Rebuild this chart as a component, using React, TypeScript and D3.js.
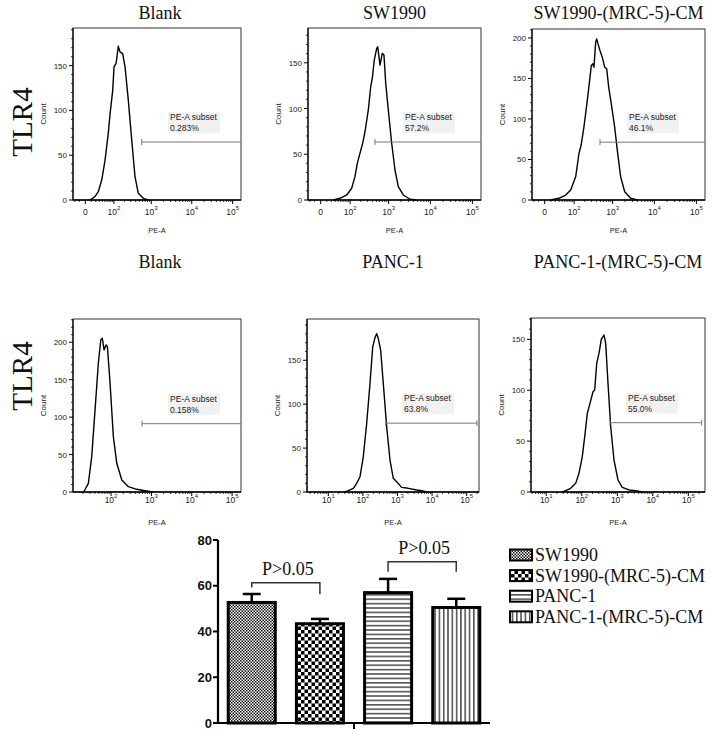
import React from "react";
import * as d3 from "d3";

const SERIF = "'Liberation Serif', 'Times New Roman', serif";
const SANS = "'Liberation Sans', Arial, sans-serif";

// ---------- Flow cytometry histograms: [PE-A intensity, count] ----------
const histBlankSW: [number, number][] = [
  [7.6, 0], [18, 3.7], [27, 9.3], [38, 22.3], [51, 44.6], [66, 74.4], [75, 94.8], [92, 122.6],
  [101, 148.6], [116, 152.4], [127, 163.5], [135, 171.7], [151, 165.3], [180, 163.5], [209, 148.6],
  [256, 111.5], [316, 66.9], [385, 26], [469, 7.5], [630, 1.9], [843, 0],
];
const histSW1990: [number, number][] = [
  [24.8, 0], [47, 1.9], [79, 5.5], [111, 12.8], [138, 25.5], [160, 40.1], [189, 51], [223, 62],
  [257, 74.6], [313, 98.4], [360, 123.8], [395, 133], [443, 153], [510, 165.8], [540, 167.5],
  [615, 147.5], [700, 160.3], [770, 158.5], [850, 127.5], [983, 98.4], [1187, 62], [1428, 32.8],
  [1715, 14.5], [2262, 5.5], [3273, 0.8], [4725, 0],
];
const histSW1990CM: [number, number][] = [
  [9.7, 0], [29.6, 2.1], [53.8, 6.1], [78.6, 12.3], [111, 28.6], [138, 57.4], [160, 68.8], [189, 90.1],
  [232, 122.9], [273, 151.6], [295, 166], [320, 168], [345, 163.9], [381, 194.6], [404, 198.8],
  [436, 192.6], [489, 184.4], [557, 176.2], [640, 163.9], [717, 161.9], [802, 139.3], [927, 118.9],
  [1122, 90.1], [1298, 61.5], [1567, 28.6], [1960, 10.2], [2730, 2.1], [3925, 0],
];
const histBlankPANC: [number, number][] = [
  [21, 0], [27.4, 11.6], [33.2, 47.2], [40.1, 109.6], [48.4, 171.9], [55.6, 203], [60.9, 205.3],
  [67.1, 189.7], [75.2, 196.4], [81.1, 194.1], [94.5, 145.2], [114, 73.9], [138.6, 38.3],
  [184.5, 16], [268.8, 7.1], [433.6, 3.6], [696.6, 1.7], [1100, 0],
];
const histPANC1: [number, number][] = [
  [30, 0], [37.8, 1.5], [52.8, 4.2], [66.1, 9.9], [82.4, 17.4], [102.6, 40.1], [128.6, 78],
  [160.2, 123.5], [191.8, 165], [223.4, 175.8], [250.2, 180.3], [278.6, 174.7], [326.6, 161.4],
  [388.3, 123.5], [486.5, 74.2], [606.7, 36.4], [755.6, 15.6], [946.5, 11.7], [1320, 5.3],
  [2050, 4.2], [3589, 2.3], [5003, 1.5], [7000, 0],
];
const histPANC1CM: [number, number][] = [
  [28, 0], [35.2, 1.3], [48.6, 3.6], [67.3, 8.5], [83.4, 18.4], [103.3, 34.7], [120.7, 54.3],
  [142.9, 77.3], [170.2, 87.1], [206.6, 98.5], [230.7, 100.2], [263, 126.4], [305, 136.2],
  [354, 150], [421.7, 154.2], [471, 146.1], [547, 106.8], [651.6, 64.1], [807, 31.4],
  [1047, 11.8], [1384, 4.6], [2137, 2], [3298, 1.3], [5000, 0],
];
const histograms = [histBlankSW, histSW1990, histSW1990CM, histBlankPANC, histPANC1, histPANC1CM];

const panelTitles = ["Blank", "SW1990", "SW1990-(MRC-5)-CM", "Blank", "PANC-1", "PANC-1-(MRC-5)-CM"];
const rowLabels = ["TLR4", "TLR4"];
const gateName = "PE-A subset";
const gatePercents = ["0.283%", "57.2%", "46.1%", "0.158%", "63.8%", "55.0%"];
const gateCounts = [64.7, 63.4, 71.3, 91.2, 78.4, 68.1];
const gateStarts = [574, 462, 489, 587, 456, 622];
const gateEnds = [160000, 160000, 160000, 166000, 198000, 238000];
const gateEndCaps = [false, false, false, false, true, true];
const countMaxima = [192, 188, 211, 231, 197, 171];
const countTickValues = [
  [0, 50, 100, 150], [0, 50, 100, 150], [0, 50, 100, 150, 200],
  [0, 50, 100, 150, 200], [0, 50, 100, 150], [0, 50, 100, 150],
];
const xAxisKinds = ["biex", "biex", "biex", "log", "log", "log"];
const xDomains: [number, number][] = [
  [-25, 160000], [-25, 160000], [-25, 160000], [11.4, 166000], [2.42, 227000], [3.71, 295000],
];
const xMajorTicks = [
  [0, 1e2, 1e3, 1e4, 1e5], [0, 1e2, 1e3, 1e4, 1e5], [0, 1e2, 1e3, 1e4, 1e5],
  [1e2, 1e3, 1e4, 1e5], [1e1, 1e2, 1e3, 1e4, 1e5], [1e1, 1e2, 1e3, 1e4, 1e5],
];
const xAxisTitle = "PE-A";
const yAxisTitle = "Count";

// ---------- Bar chart ----------
const barGroups = ["SW1990", "SW1990-(MRC-5)-CM", "PANC-1", "PANC-1-(MRC-5)-CM"];
const barMeans = [52.7, 43.4, 57.0, 50.5];
const barErrors = [3.7, 2.1, 6.0, 3.8];
const barTicks = [0, 20, 40, 60, 80];
const bracketPairs = [[0, 1], [2, 3]];
const bracketLevels = [61.3, 70.5];
const bracketLeftEnds = [59.2, 66.1];
const bracketRightEnds = [56.3, 66.1];
const bracketLabels = ["P>0.05", "P>0.05"];
const patternIds = ["patFineCheck", "patCheck", "patHLines", "patVLines"];

const frames = [
  { x0: 73, x1: 241, y0: 28, y1: 200 },
  { x0: 308, x1: 481, y0: 28, y1: 200 },
  { x0: 532, x1: 705, y0: 29, y1: 200 },
  { x0: 73, x1: 241, y0: 319, y1: 492 },
  { x0: 307, x1: 479, y0: 319, y1: 492 },
  { x0: 531, x1: 705, y0: 318, y1: 492 },
];
const titleShift = [3, 0, 0, 3, 0, 0];

function minorTicksFor(kind: string, dom: [number, number]): number[] {
  const out: number[] = [];
  if (kind === "biex") {
    for (let v = -20; v <= 90; v += 10) if (v !== 0) out.push(v);
    for (let k = 2; k <= 5; k++) for (let m = 2; m <= 9; m++) out.push(m * Math.pow(10, k));
  } else {
    for (let k = 0; k <= 5; k++) for (let m = 2; m <= 9; m++) out.push(m * Math.pow(10, k));
  }
  return out.filter((v) => v >= dom[0] && v <= dom[1]);
}

function HistPanel({ i }: { i: number }) {
  const f = frames[i];
  const kind = xAxisKinds[i];
  const x: any =
    kind === "biex"
      ? d3.scaleSymlog().constant(25).domain(xDomains[i]).range([f.x0, f.x1])
      : d3.scaleLog().domain(xDomains[i]).range([f.x0, f.x1]);
  const y = d3.scaleLinear().domain([0, countMaxima[i]]).range([f.y1, f.y0]);
  const line = d3
    .line<[number, number]>()
    .x((d) => x(d[0]))
    .y((d) => y(d[1]));
  const minorY: number[] = [];
  for (let v = 0; v <= countMaxima[i]; v += 10) if (v % 50 !== 0) minorY.push(v);
  const minorX = minorTicksFor(kind, xDomains[i]);
  const isTop = i < 3;
  const labelBase = isTop ? f.y1 + 14.5 : f.y1 + 10.5;
  const gy = y(gateCounts[i]);
  const gx0 = x(gateStarts[i]);
  const gx1 = Math.min(x(gateEnds[i]), f.x1);
  const cx = (f.x0 + f.x1) / 2;
  return (
    <g>
      <text x={cx + titleShift[i]} y={isTop ? 19 : 268} textAnchor="middle" fontFamily={SERIF} fontSize={18} fill="#111">
        {panelTitles[i]}
      </text>
      <rect x={f.x0} y={f.y0} width={f.x1 - f.x0} height={f.y1 - f.y0} fill="none" stroke="#333" strokeWidth={1} />
      <line x1={f.x0} x2={f.x1} y1={f.y1} y2={f.y1} stroke="#000" strokeWidth={1.5} />
      <line x1={f.x0} x2={f.x0} y1={f.y0} y2={f.y1} stroke="#000" strokeWidth={1.2} />
      {countTickValues[i].map((v) => (
        <g key={"yt" + v}>
          <line x1={f.x0 - 4} x2={f.x0} y1={y(v)} y2={y(v)} stroke="#000" strokeWidth={1} />
          <text x={f.x0 - 6} y={y(v) + 3} textAnchor="end" fontFamily={SANS} fontSize={8} fill="#222">
            {v}
          </text>
        </g>
      ))}
      {minorY.map((v) => (
        <line key={"ym" + v} x1={f.x0 - 2} x2={f.x0} y1={y(v)} y2={y(v)} stroke="#000" strokeWidth={0.8} />
      ))}
      {minorX.map((v) => (
        <line key={"xm" + v} x1={x(v)} x2={x(v)} y1={f.y1} y2={f.y1 + 2} stroke="#000" strokeWidth={0.8} />
      ))}
      {xMajorTicks[i].map((v) => (
        <g key={"xt" + v}>
          <line x1={x(v)} x2={x(v)} y1={f.y1} y2={f.y1 + 4} stroke="#000" strokeWidth={1} />
          <text x={x(v)} y={labelBase} textAnchor="middle" fontFamily={SANS} fontSize={8.5} fill="#222">
            {v === 0 ? "0" : "10"}
            {v === 0 ? null : (
              <tspan dy={-4.5} fontSize={6}>
                {String(Math.round(Math.log10(v)))}
              </tspan>
            )}
          </text>
        </g>
      ))}
      <text x={cx} y={f.y1 + 33} textAnchor="middle" fontFamily={SANS} fontSize={7.5} fill="#222">
        {xAxisTitle}
      </text>
      <text
        transform={`translate(${f.x0 - 27},${(f.y0 + f.y1) / 2}) rotate(-90)`}
        textAnchor="middle"
        fontFamily={SANS}
        fontSize={8}
        fill="#222"
      >
        {yAxisTitle}
      </text>
      <path d={line(histograms[i]) || ""} fill="none" stroke="#000" strokeWidth={1.4} strokeLinejoin="round" />
      <rect x={f.x0 + 95} y={gy - 30} width={52} height={21} fill="#f1f1f1" />
      <text x={f.x0 + 97} y={gy - 22} fontFamily={SANS} fontSize={8.5} fill="#222">
        {gateName}
      </text>
      <text x={f.x0 + 97} y={gy - 11} fontFamily={SANS} fontSize={8.5} fill="#222">
        {gatePercents[i]}
      </text>
      <line x1={gx0} x2={gx1} y1={gy} y2={gy} stroke="#777" strokeWidth={1} />
      <line x1={gx0} x2={gx0} y1={gy - 3} y2={gy + 3} stroke="#777" strokeWidth={1} />
      {gateEndCaps[i] ? <line x1={gx1} x2={gx1} y1={gy - 3} y2={gy + 3} stroke="#777" strokeWidth={1} /> : null}
    </g>
  );
}

function BarChart() {
  const y = d3.scaleLinear().domain([0, 80]).range([723, 540]);
  const x = d3.scaleBand<string>().domain(barGroups).range([218, 490]).paddingInner(0.31).paddingOuter(0.15);
  const bw = x.bandwidth();
  const capHalf = 9;
  return (
    <g>
      {barGroups.map((g, i) => {
        const x0 = x(g) as number;
        const cxb = x0 + bw / 2;
        return (
          <g key={g}>
            <line x1={cxb} x2={cxb} y1={y(barMeans[i])} y2={y(barMeans[i] + barErrors[i])} stroke="#000" strokeWidth={2.5} />
            <line
              x1={cxb - capHalf}
              x2={cxb + capHalf}
              y1={y(barMeans[i] + barErrors[i])}
              y2={y(barMeans[i] + barErrors[i])}
              stroke="#000"
              strokeWidth={2.5}
            />
            <rect
              x={x0}
              y={y(barMeans[i])}
              width={bw}
              height={y(0) - y(barMeans[i])}
              fill={`url(#${patternIds[i]})`}
              stroke="#000"
              strokeWidth={3}
            />
          </g>
        );
      })}
      <line x1={218} x2={218} y1={y(80)} y2={y(0)} stroke="#000" strokeWidth={2.2} />
      <line x1={218} x2={490} y1={y(0)} y2={y(0)} stroke="#000" strokeWidth={2.2} />
      <line x1={354} x2={354} y1={y(0)} y2={y(0) + 6} stroke="#000" strokeWidth={2} />
      {barTicks.map((t) => (
        <g key={"bt" + t}>
          <line x1={213} x2={218} y1={y(t)} y2={y(t)} stroke="#000" strokeWidth={2} />
          <text x={212} y={y(t) + 4.5} textAnchor="end" fontFamily={SANS} fontWeight="bold" fontSize={13} fill="#111">
            {t}
          </text>
        </g>
      ))}
      {bracketPairs.map((p, k) => {
        const xa = (x(barGroups[p[0]]) as number) + bw / 2;
        const xb = (x(barGroups[p[1]]) as number) + bw / 2;
        const yl = y(bracketLevels[k]);
        return (
          <g key={"br" + k}>
            <path
              d={`M${xa},${y(bracketLeftEnds[k])}V${yl}H${xb}V${y(bracketRightEnds[k])}`}
              fill="none"
              stroke="#333"
              strokeWidth={1.5}
            />
            <text x={(xa + xb) / 2 + 2} y={yl - 8} textAnchor="middle" fontFamily={SERIF} fontSize={18} fill="#111">
              {bracketLabels[k]}
            </text>
          </g>
        );
      })}
      {barGroups.map((g, i) => {
        const ry = 555 + i * 20.6;
        return (
          <g key={"lg" + g}>
            <rect x={510} y={ry - 5.5} width={22} height={11} fill={`url(#${patternIds[i]})`} stroke="#000" strokeWidth={2} />
            <text x={535} y={ry + 6} fontFamily={SERIF} fontSize={18} fill="#111">
              {g}
            </text>
          </g>
        );
      })}
    </g>
  );
}

export default function App() {
  return (
    <svg
      width={714}
      height={738}
      viewBox="0 0 714 738"
      style={{ position: "absolute", left: 0, top: 0, display: "block", background: "#fff" }}
    >
      <defs>
        <pattern id="patFineCheck" patternUnits="userSpaceOnUse" width={3} height={3}>
          <rect width={3} height={3} fill="#fff" />
          <rect x={0} y={0} width={1.5} height={1.5} fill="#111" />
          <rect x={1.5} y={1.5} width={1.5} height={1.5} fill="#111" />
        </pattern>
        <pattern id="patCheck" patternUnits="userSpaceOnUse" width={7} height={7}>
          <rect width={7} height={7} fill="#fff" />
          <rect x={0} y={0} width={3.5} height={3.5} fill="#000" />
          <rect x={3.5} y={3.5} width={3.5} height={3.5} fill="#000" />
        </pattern>
        <pattern id="patHLines" patternUnits="userSpaceOnUse" width={8} height={4.4}>
          <rect width={8} height={4.4} fill="#fff" />
          <rect x={0} y={0} width={8} height={1.6} fill="#555" />
        </pattern>
        <pattern id="patVLines" patternUnits="userSpaceOnUse" width={4.3} height={8}>
          <rect width={4.3} height={8} fill="#fff" />
          <rect x={0} y={0} width={1.6} height={8} fill="#555" />
        </pattern>
      </defs>
      <rect width={714} height={738} fill="#fff" />
      {rowLabels.map((r, k) => (
        <text
          key={"row" + k}
          transform={`translate(32,${k === 0 ? 122 : 376}) rotate(-90)`}
          textAnchor="middle"
          fontFamily={SERIF}
          fontSize={29}
          fill="#111"
        >
          {r}
        </text>
      ))}
      {frames.map((_, i) => (
        <HistPanel key={i} i={i} />
      ))}
      <BarChart />
    </svg>
  );
}
